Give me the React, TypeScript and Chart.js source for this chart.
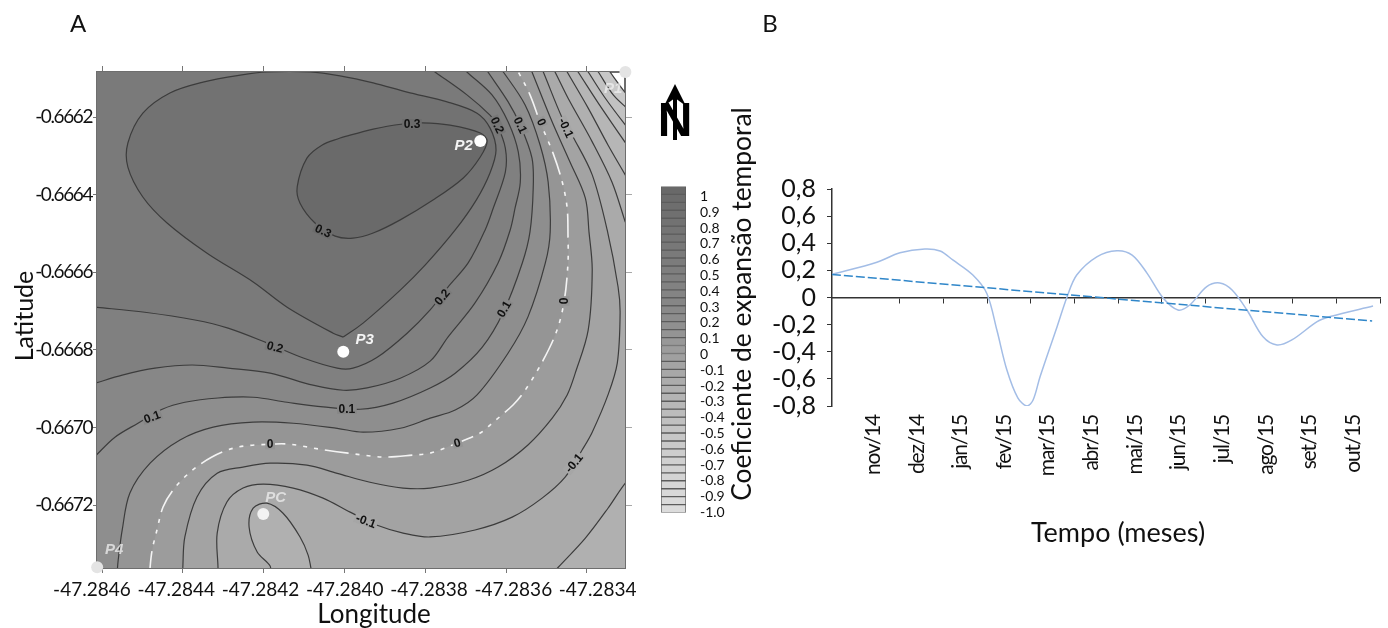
import React, { useEffect, useRef } from "react";
import { Chart, registerables } from "chart.js";

Chart.register(...registerables);

// ---------- Panel A: contour map. Contour vertices are [east, south] in 1e-4 degrees from (-47.2846, -0.6662).
const lonOrigin = -47.2846;
const latOrigin = -0.6662;
const lonTicks = [-47.2846, -47.2844, -47.2842, -47.284, -47.2838, -47.2836, -47.2834];
const latTicks = [-0.6662, -0.6664, -0.6666, -0.6668, -0.667, -0.6672];

const c03 = [[5.89,.54],[6.71,.31],[7.45,.18],[7.92,.15],[8.61,.21],[9.36,.41],[9.53,.62],[9.36,1.03],[8.94,1.57],[8.19,2.14],[7.38,2.65],[6.71,2.99],[6.21,3.12],[5.77,3.07],[5.27,2.73],[4.9,2.22],[4.83,1.8],[5.07,1.06],[5.45,.72],[5.89,.54]];
const c025 = [[5.97,5.67],[5.72,5.57],[4.58,4.9],[3.74,4.25],[2.6,3.51],[1.61,2.73],[1.01,2.06],[.64,1.29],[.64,.67],[1.01,-.1],[1.68,-.62],[2.5,-.9],[3.42,-1.08],[4.08,-1.16],[5.15,-1.16],[5.89,-1.06],[6.71,-.88],[7.55,-.64],[8.54,-.39],[9.28,-.1],[9.6,.28],[9.75,.85],[9.6,1.44],[9.26,2.14],[8.74,2.91],[8,3.81],[7.38,4.46],[6.46,5.31],[5.97,5.67]];
const c02 = [[-.17,4.9],[1.06,5.03],[2.3,5.23],[3.12,5.44],[4.08,5.82],[4.98,6.21],[5.82,6.47],[6.21,6.47],[6.81,6.19],[7.55,5.57],[8.12,4.97],[8.56,4.38],[9.06,3.76],[9.48,2.91],[9.68,2.35],[9.98,1.42],[9.98,.8],[9.78,.21],[9.6,-.05],[9.03,-.57],[8.24,-1.16],[8,-1.34]];
const c015 = [[-.17,6.86],[.5,6.65],[1.31,6.47],[2.23,6.39],[3.12,6.47],[4.16,6.6],[5.22,6.91],[5.97,7.04],[6.56,6.98],[7.38,6.73],[8.12,6.29],[8.56,5.67],[9.23,4.79],[9.8,3.76],[10.1,2.91],[10.22,2.35],[10.35,1.68],[10.3,.9],[10.05,.13],[9.65,-.57],[9.03,-1.16],[8.86,-1.34]];
const c01 = [[-.17,8.74],[.32,8.25],[.89,7.89],[1.49,7.53],[2.05,7.35],[2.87,7.24],[3.74,7.22],[4.58,7.35],[5.47,7.47],[6.39,7.53],[7.2,7.37],[8.12,6.98],[8.74,6.6],[9.41,5.93],[9.93,5.03],[10.4,3.76],[10.59,2.96],[10.67,1.83],[10.64,1.06],[10.35,.21],[10.05,-.39],[9.55,-1.16],[9.43,-1.34]];
const c005 = [[.37,11.8],[.4,11.42],[.5,10.64],[.69,9.69],[1.19,8.92],[1.93,8.32],[2.75,7.99],[3.74,7.86],[4.73,7.89],[5.82,8.02],[6.46,8.12],[7.38,8.02],[8.12,7.76],[8.74,7.55],[9.28,7.16],[10.05,6.08],[10.54,5.15],[10.97,3.76],[11.09,2.96],[11.04,1.68],[10.84,.72],[10.47,-.31],[9.93,-1.16],[9.78,-1.34]];
const c00 = [[1.19,11.8],[1.19,11.6],[1.24,11.16],[1.36,10.64],[1.51,10.05],[1.76,9.61],[2.18,9.15],[2.72,8.76],[3.34,8.51],[4.16,8.43],[4.65,8.43],[5.4,8.56],[6.09,8.66],[6.96,8.76],[7.7,8.71],[8.12,8.66],[8.79,8.4],[9.36,8.14],[9.65,7.89],[10.17,7.42],[10.47,7.04],[10.92,6.26],[11.26,5.49],[11.44,4.72],[11.53,3.76],[11.53,3.04],[11.51,2.35],[11.39,1.68],[11.16,.93],[10.84,.13],[10.59,-.57],[10.3,-1.16],[10.2,-1.34]];
const cm005 = [[2,11.8],[2,11.6],[2.05,10.82],[2.35,9.79],[2.85,9.18],[3.49,9.02],[4.16,8.92],[5.07,8.97],[5.82,9.18],[6.63,9.41],[7.45,9.56],[8.12,9.56],[9.06,9.36],[9.8,9.02],[10.54,8.45],[11.14,7.76],[11.51,7.16],[11.71,6.6],[12.03,5.49],[12.13,3.94],[12.05,2.96],[11.96,2.09],[11.58,1.16],[11.14,.13],[10.64,-1.16],[10.57,-1.34]];
const cm01 = [[2.87,11.8],[2.87,11.6],[2.85,10.72],[3.09,9.92],[3.49,9.56],[3.99,9.46],[4.73,9.56],[5.47,9.82],[6.14,10.18],[6.81,10.52],[7.45,10.72],[8.12,10.82],[9.23,10.64],[10.15,10.31],[10.89,9.82],[11.46,9.28],[11.88,8.58],[12.13,8.12],[12.52,7.16],[12.75,6.34],[12.82,5.05],[12.77,4.38],[12.5,2.91],[12.13,1.49],[11.66,.52],[11.39,.03],[10.92,-1.16],[10.84,-1.34]];
const cm015Upper = [[11.11,-1.34],[11.21,-1.16],[11.53,-.49],[12.13,.64],[12.62,1.68],[12.95,2.71],[13.07,3.07]];
const cm015Lower = [[13.12,9.3],[12.95,9.43],[12.52,10.08],[11.96,10.85],[11.29,11.6],[11.11,11.8]];
const cm015Loop = [[4.16,11.8],[4.16,11.57],[3.84,11.21],[3.64,10.57],[3.74,10.08],[4.08,9.95],[4.48,10.21],[4.9,10.82],[5.1,11.29],[5.2,11.8]];
const cm02 = [[11.41,-1.34],[11.51,-1.16],[12.03,-.23],[12.52,.72],[12.99,1.57],[13.12,1.83]];
const cm025 = [[11.66,-1.34],[11.78,-1.16],[12.28,-.36],[12.99,.72],[13.12,.9]];
const cm03 = [[11.91,-1.34],[12.03,-1.16],[12.45,-.49],[12.99,.26],[13.12,.41]];
const cm035 = [[12.15,-1.34],[12.28,-1.16],[12.65,-.57],[12.99,-.23],[13.12,-.13]];
const cm04 = [[12.45,-1.34],[12.57,-1.16],[12.99,-.57],[13.12,-.44]];

const stationNames = ["P2", "P3", "PC", "P1", "P4"];
const stationSites = [[9.36,.62],[5.97,6.05],[3.99,10.23],[12.95,-1.16],[-.12,11.6]];
const stationNameSites = [[8.95,.75],[6.5,5.75],[4.3,9.8],[12.65,-.72],[.3,11.16]];

const contourLabels = ["0.3","0.3","0.2","0.1","0","-0.1","0.2","0.1","0","0.2","0.1","0.1","0","0","-0.1","-0.1"];
const contourLabelSites = [[7.67,.18],[5.47,2.94],[9.78,.21],[10.35,.21],[10.87,.13],[11.48,.28],[8.42,4.64],[9.95,4.95],[11.44,4.74],[4.28,5.93],[6.06,7.52],[1.24,7.73],[4.16,8.43],[8.79,8.4],[6.53,10.41],[11.68,8.92]];
const contourLabelAngles = [0,25,65,65,65,65,-50,-60,-90,15,0,-20,0,-15,20,-50];
const contourLabelBacks = ["#6c6c6c","#6c6c6c","#777777","#878787","#959595","#a6a6a6","#7a7a7a","#878787","#959595","#7a7a7a","#878787","#878787","#959595","#959595","#a6a6a6","#a6a6a6"];

// ---------- Colour scale
const scaleTicks = [1,.9,.8,.7,.6,.5,.4,.3,.2,.1,0,-.1,-.2,-.3,-.4,-.5,-.6,-.7,-.8,-.9,-1];
const scaleTickNames = ["1","0.9","0.8","0.7","0.6","0.5","0.4","0.3","0.2","0.1","0","-0.1","-0.2","-0.3","-0.4","-0.5","-0.6","-0.7","-0.8","-0.9","-1.0"];
const bandTops = [1,.95,.9,.85,.8,.75,.7,.65,.6,.55,.5,.45,.4,.35,.3,.25,.2,.15,.1,.05,0,-.05,-.1,-.15,-.2,-.25,-.3,-.35,-.4,-.45,-.5,-.55,-.6,-.65,-.7,-.75,-.8,-.85,-.9,-.95,-1];
const bandGrays = [105,108,110,112,114,116,118,120,122,124,126,128,130,132,134,137,140,144,148,152,156,160,164,168,172,176,180,184,188,192,196,199,202,205,208,210,212,214,216,218,220];

// ---------- Panel B: time series
const monthLabels = ["nov/14","dez/14","jan/15","fev/15","mar/15","abr/15","mai/15","jun/15","jul/15","ago/15","set/15","out/15"];
const monthTickValues = [0,1,2,3,4,5,6,7,8,9,10,11];
const monthEdges = [.5,1.5,2.5,3.5,4.5,5.5,6.5,7.5,8.5,9.5,10.5,11.5];
const coefTicks = [.8,.6,.4,.2,0,-.2,-.4,-.6,-.8];
const seriesMonths = [-1.06,-.03,.5,1.07,1.42,1.71,2.17,2.49,2.72,2.95,3.2,3.41,3.55,3.71,4.1,4.33,4.55,5.01,5.47,5.82,6.16,6.53,6.87,7.14,7.53,7.83,8.11,8.45,8.82,9.14,9.48,10.06,10.36,11.34];
const seriesCoef = [.17,.26,.33,.358,.343,.277,.166,.03,-.24,-.535,-.74,-.8,-.756,-.584,-.215,.006,.166,.3,.345,.313,.18,-.004,-.092,-.055,.08,.107,.055,-.092,-.29,-.35,-.313,-.178,-.14,-.063];
const trendMonths = [-1.06,11.32];
const trendCoef = [.17,-.173];

const LATO = "Lato, 'Open Sans', sans-serif";
const pt = (p: number[]) => ({ x: lonOrigin + p[0] * 1e-4, y: latOrigin - p[1] * 1e-4 });
const fixedTicks = (values: number[]) => (axis: any) => {
  axis.ticks = values.map((value) => ({ value }));
};
const fixedWidth = (w: number) => (axis: any) => { axis.width = w; };
const fixedHeight = (h: number) => (axis: any) => { axis.height = h; };

function text(ctx: any, s: string, x: number, y: number, font: string, color = "#111", rot = 0) {
  ctx.save();
  ctx.translate(x, y);
  ctx.rotate((rot * Math.PI) / 180);
  ctx.font = font;
  ctx.fillStyle = color;
  ctx.textAlign = "center";
  ctx.textBaseline = "middle";
  ctx.fillText(s, 0, 0);
  ctx.restore();
}

const mapPlugin = {
  id: "mapDecor",
  beforeDraw(chart: any) {
    chart.ctx.letterSpacing = "0px";
  },
  afterDatasetsDraw(chart: any) {
    const { ctx, scales } = chart;
    const sx = (p: number[]) => scales.x.getPixelForValue(pt(p).x);
    const sy = (p: number[]) => scales.y.getPixelForValue(pt(p).y);
    ctx.save();
    ctx.beginPath();
    ctx.rect(chart.chartArea.left, chart.chartArea.top, chart.chartArea.width, chart.chartArea.height);
    ctx.clip();
    contourLabels.forEach((s, i) => {
      const p = contourLabelSites[i];
      ctx.save();
      ctx.translate(sx(p), sy(p));
      ctx.rotate((contourLabelAngles[i] * Math.PI) / 180);
      ctx.font = "bold 12px 'Liberation Sans'";
      const w = ctx.measureText(s).width + 3;
      ctx.fillStyle = contourLabelBacks[i];
      ctx.fillRect(-w / 2, -5, w, 10);
      ctx.fillStyle = "#111";
      ctx.textAlign = "center";
      ctx.textBaseline = "middle";
      ctx.fillText(s, 0, 0.5);
      ctx.restore();
    });
    stationNames.forEach((s, i) => {
      const p = stationNameSites[i];
      const color = i < 2 ? "#f4f4f4" : i === 2 ? "#dedede" : "rgba(240,240,240,0.75)";
      text(ctx, s, sx(p), sy(p), "italic bold 15px 'Liberation Sans'", color);
    });
    ctx.restore();
    text(ctx, "A", 78, 24, `24px ${LATO}`);
    text(ctx, "Longitude", 374, 615, `26px ${LATO}`);
    text(ctx, "Latitude", 25, 316, `25px ${LATO}`, "#111", -90);
    text(ctx, "N", 675, 123, "bold 48px 'Liberation Sans'", "#000");
    ctx.save();
    ctx.fillStyle = "#000";
    ctx.beginPath();
    ctx.rect(673, 96, 4, 44);
    ctx.fill();
    ctx.beginPath();
    ctx.moveTo(675, 84);
    ctx.lineTo(686, 106);
    ctx.lineTo(675, 98);
    ctx.lineTo(664, 106);
    ctx.closePath();
    ctx.fill();
    ctx.restore();
    // the latitude labels are drawn next, in a tighter setting than the rest
    ctx.letterSpacing = "-1.4px";
  },
};

const seriesPlugin = {
  id: "seriesTitles",
  beforeDraw(chart: any) {
    chart.ctx.letterSpacing = "0px";
  },
  afterDatasetsDraw(chart: any) {
    const { ctx } = chart;
    text(ctx, "B", 70, 24, `24px ${LATO}`);
    text(ctx, "Tempo (meses)", 418, 533, `27px ${LATO}`);
    text(ctx, "Coeficiente de expansão temporal", 42, 304, `26.4px ${LATO}`, "#111", -90);
    // the month labels are drawn next, slightly condensed
    ctx.letterSpacing = "-1.2px";
  },
};

export default function App() {
  const mapRef = useRef<HTMLCanvasElement>(null);
  const scaleRef = useRef<HTMLCanvasElement>(null);
  const seriesRef = useRef<HTMLCanvasElement>(null);

  useEffect(() => {
    const region = (pts: number[][], color: string) => ({
      data: pts.map(pt), showLine: true, fill: "shape", backgroundColor: color,
      borderWidth: 0, tension: 0.33, capBezierPoints: false, pointRadius: 0,
    });
    const line = (pts: number[][]) => ({
      data: pts.map(pt), showLine: true, fill: false, borderColor: "#3c3c3c",
      borderWidth: 1.2, tension: 0.33, capBezierPoints: false, pointRadius: 0,
    });
    const W = -2, N = -2, E = 15, S = 13;
    const leftEdge = (c: number[][]) => [...c, [c[c.length - 1][0], N], [W, N], [W, c[0][1]]];
    const bottomEdge = (c: number[][]) => [...c, [c[c.length - 1][0], N], [W, N], [W, S], [c[0][0], S]];
    const cornerEdge = (c: number[][]) => [...c, [E, c[c.length - 1][1]], [E, S], [W, S], [W, N], [c[0][0], N]];

    const regionsHighToLow = [
      region(c03, "#6a6a6a"), region(c025, "#727272"),
      region(leftEdge(c02), "#7a7a7a"), region(leftEdge(c015), "#808080"), region(leftEdge(c01), "#878787"),
      region(bottomEdge(c005), "#8e8e8e"), region(bottomEdge(c00), "#959595"),
      region(bottomEdge(cm005), "#9c9c9c"), region(bottomEdge(cm01), "#a3a3a3"),
      region(cm015Loop, "#b0b0b0"),
      region([...cm015Upper, [E, cm015Upper[6][1]], [E, cm015Lower[0][1]], ...cm015Lower, [11, S], [W, S], [W, N], [cm015Upper[0][0], N]], "#aaaaaa"),
      region(cornerEdge(cm02), "#b0b0b0"), region(cornerEdge(cm025), "#b6b6b6"),
      region(cornerEdge(cm03), "#bcbcbc"), region(cornerEdge(cm035), "#c2c2c2"), region(cornerEdge(cm04), "#c8c8c8"),
    ];
    const stations = {
      data: stationSites.map(pt), showLine: false, clip: false, pointRadius: 6, pointBorderWidth: 0,
      pointBackgroundColor: ["#ffffff", "#ffffff", "#f2f2f2", "#e4e4e4", "#e4e4e4"],
    };
    const zeroLine = { ...line(c00), borderColor: "#f4f4f4", borderWidth: 1.6, borderDash: [24, 7, 4, 7, 4, 7, 4, 7] };
    const lines = [c03, c025, c02, c015, c01, c005, cm005, cm01, cm015Upper, cm015Lower, cm015Loop, cm02, cm025, cm03, cm035, cm04].map(line);

    const xMin = -47.2846124, xMax = -47.2833059, yMin = -0.667362, yMax = -0.666084;
    const axisGrid = { drawOnChartArea: false, color: "#767676", lineWidth: 1 };
    const axisBorder = { color: "#6e6e6e", width: 2 };
    const map = new Chart(mapRef.current!, {
      type: "scatter",
      data: { datasets: [stations, zeroLine, ...lines, ...regionsHighToLow] as any },
      options: {
        animation: false, responsive: false,
        plugins: { legend: { display: false }, tooltip: { enabled: false } },
        layout: { padding: 0 },
        scales: {
          x: { type: "linear", position: "bottom", weight: 0, min: xMin, max: xMax, afterBuildTicks: fixedTicks(lonTicks), afterFit: fixedHeight(6),
            ticks: { display: false }, grid: { ...axisGrid, tickLength: 5 }, border: axisBorder },
          xl: { type: "linear", axis: "x", position: "bottom", weight: 1, min: -47.284588, max: -47.283335, afterBuildTicks: fixedTicks(lonTicks), afterFit: fixedHeight(54),
            grid: { display: false }, border: { display: false },
            ticks: { z: 0, autoSkip: false, maxRotation: 0, padding: -4, color: "#111", font: { family: LATO, size: 19 }, callback: (v: any) => Number(v).toFixed(4) } },
          xt: { type: "linear", axis: "x", position: "top", min: xMin, max: xMax, afterBuildTicks: fixedTicks(lonTicks), afterFit: fixedHeight(72),
            ticks: { display: false }, grid: { ...axisGrid, tickLength: 6 }, border: axisBorder },
          y: { type: "linear", position: "left", min: yMin, max: yMax, afterBuildTicks: fixedTicks(latTicks), afterFit: fixedWidth(97),
            grid: { ...axisGrid, tickLength: 4 }, border: axisBorder,
            ticks: { z: 1, autoSkip: false, padding: 1, color: "#111", font: { family: LATO, size: 19 }, callback: (v: any) => Number(v).toFixed(4) } },
          yr: { type: "linear", axis: "y", position: "right", min: yMin, max: yMax, afterBuildTicks: fixedTicks(latTicks), afterFit: fixedWidth(75),
            ticks: { display: false }, grid: { drawOnChartArea: false, color: "#a8a8a8", tickLength: 7 }, border: axisBorder },
        },
      } as any,
      plugins: [mapPlugin],
    });

    const colorScale = new Chart(scaleRef.current!, {
      type: "bar",
      data: {
        labels: ["Coeficiente"],
        datasets: bandTops.map((top, i) => ({
          data: [[top - 0.05, top]], yAxisID: "y",
          backgroundColor: `rgb(${bandGrays[i]},${bandGrays[i]},${bandGrays[i]})`,
          borderColor: "#5c5c5c", borderWidth: 1, borderSkipped: false,
          barPercentage: 1, categoryPercentage: 1,
        })) as any,
      },
      options: {
        animation: false, responsive: false,
        plugins: { legend: { display: false }, tooltip: { enabled: false } },
        layout: { padding: { left: 11, top: 7, bottom: 13, right: 0 } },
        scales: {
          x: { display: false, stacked: false },
          y: { display: false, min: -1.05, max: 1 },
          yl: { type: "linear", axis: "y", position: "right", min: -1, max: 1.0635, afterBuildTicks: fixedTicks(scaleTicks), afterFit: fixedWidth(44),
            grid: { display: false }, border: { display: false },
            ticks: { autoSkip: false, padding: 6, color: "#111", font: { family: LATO, size: 14 },
              callback: (_: any, i: number) => scaleTickNames[i] } },
        },
        datasets: { bar: { grouped: false } },
      } as any,
    });

    const series = new Chart(seriesRef.current!, {
      type: "line",
      data: {
        datasets: [
          { data: trendMonths.map((x, i) => ({ x, y: trendCoef[i] })), borderColor: "#2f86c9", borderWidth: 1.5, borderDash: [9, 3], pointRadius: 0, tension: 0 },
          { data: seriesMonths.map((x, i) => ({ x, y: seriesCoef[i] })), borderColor: "#a3bde6", borderWidth: 1.5, pointRadius: 0, tension: 0.33 },
        ],
      },
      options: {
        animation: false, responsive: false,
        plugins: { legend: { display: false }, tooltip: { enabled: false } },
        layout: { padding: { top: 189, right: 8 } },
        scales: {
          x: { type: "linear", position: { y: 0 }, min: -1.058, max: 11.5, afterBuildTicks: fixedTicks(monthEdges),
            ticks: { display: false }, grid: { drawOnChartArea: false, color: "#333", tickLength: 5 }, border: { color: "#333", width: 1.5 } },
          xl: { type: "linear", axis: "x", position: "bottom", min: -1.058, max: 11.5, afterBuildTicks: fixedTicks(monthTickValues), afterFit: fixedHeight(222),
            grid: { display: false }, border: { display: false },
            ticks: { z: 1, autoSkip: false, minRotation: 90, maxRotation: 90, labelOffset: -5, padding: 1, color: "#111", font: { family: LATO, size: 21 },
              callback: (v: any) => monthLabels[v] } },
          y: { type: "linear", position: "left", min: -0.8, max: 0.8, afterBuildTicks: fixedTicks(coefTicks), afterFit: fixedWidth(132),
            grid: { drawOnChartArea: false, color: "#333", tickLength: 5 }, border: { color: "#333", width: 1.5 },
            ticks: { autoSkip: false, padding: 11, color: "#111", font: { family: LATO, size: 25 },
              callback: (v: any) => (Math.abs(v) < 1e-9 ? "0" : Number(v).toFixed(1).replace(".", ",")) } },
        },
      } as any,
      plugins: [seriesPlugin],
    });

    return () => {
      map.destroy();
      colorScale.destroy();
      series.destroy();
    };
  }, []);

  const place = (left: number, top: number): React.CSSProperties => ({ position: "absolute", left, top, display: "block" });
  return (
    <div style={{ position: "absolute", left: 0, top: 0, width: 1388, height: 628, overflow: "hidden", background: "#fff" }}>
      <canvas ref={mapRef} width={700} height={628} style={place(0, 0)} />
      <canvas ref={scaleRef} width={80} height={355} style={place(650, 172)} />
      <canvas ref={seriesRef} width={688} height={628} style={place(700, 0)} />
    </div>
  );
}
